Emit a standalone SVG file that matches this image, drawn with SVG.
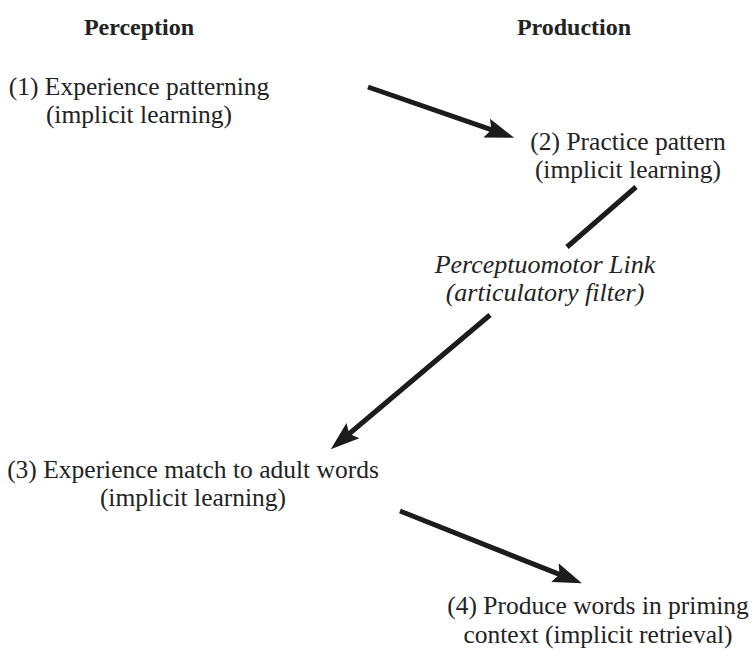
<svg xmlns="http://www.w3.org/2000/svg" width="752" height="661" viewBox="0 0 752 661">
<style>
  text { font-family: "Liberation Serif", "Times New Roman", serif; fill: #232323; text-anchor: middle; }
  .head { font-size: 24px; font-weight: bold; }
  .node { font-size: 25.5px; }
  .link { font-size: 26px; font-style: italic; }
  .conn { stroke: #1c1c1c; stroke-width: 5; fill: none; }
</style>
<defs>
  <marker id="arrow" markerUnits="userSpaceOnUse" markerWidth="30" markerHeight="22" viewBox="0 0 30 22" refX="13" refY="11" orient="auto">
    <path d="M0,1 L29,11 L0,21 L5,11 z" fill="#1c1c1c"/>
  </marker>
</defs>
<rect width="752" height="661" fill="#ffffff"/>
<g id="headings">
  <text class="head" x="139" y="35">Perception</text>
  <text class="head" x="574" y="35">Production</text>
</g>
<g id="connectors">
  <line class="conn" x1="368" y1="87" x2="499" y2="132.4" marker-end="url(#arrow)"/>
  <line class="conn" x1="636" y1="187" x2="567" y2="247"/>
  <line class="conn" x1="490" y1="315" x2="343" y2="439" marker-end="url(#arrow)"/>
  <line class="conn" x1="400" y1="511" x2="567" y2="577.4" marker-end="url(#arrow)"/>
</g>
<g id="node1">
  <text class="node" x="139" y="95">(1) Experience patterning</text>
  <text class="node" x="139" y="123">(implicit learning)</text>
</g>
<g id="node2">
  <text class="node" x="628" y="150">(2) Practice pattern</text>
  <text class="node" x="628" y="178">(implicit learning)</text>
</g>
<g id="link-label">
  <text class="link" x="545" y="273">Perceptuomotor Link</text>
  <text class="link" x="545" y="301">(articulatory filter)</text>
</g>
<g id="node3">
  <text class="node" x="193" y="478">(3) Experience match to adult words</text>
  <text class="node" x="193" y="506">(implicit learning)</text>
</g>
<g id="node4">
  <text class="node" x="598" y="614">(4) Produce words in priming</text>
  <text class="node" x="598" y="643">context (implicit retrieval)</text>
</g>
</svg>
